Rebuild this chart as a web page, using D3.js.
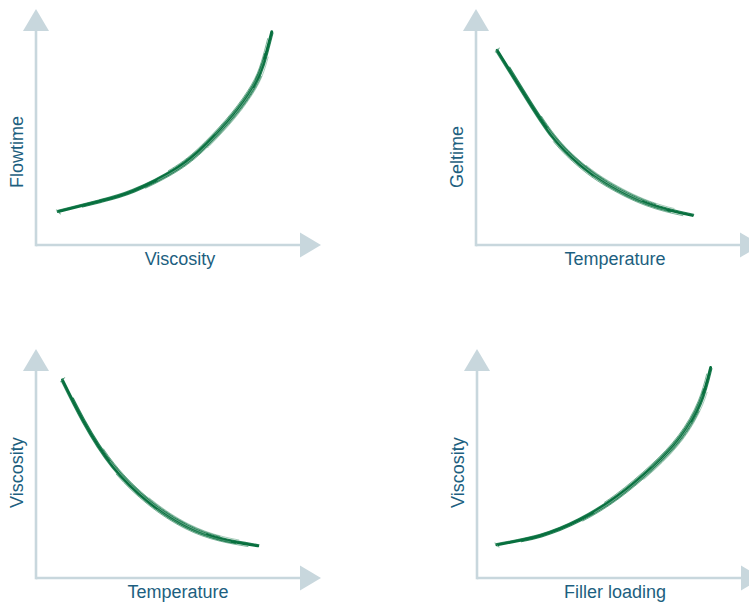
<!DOCTYPE html>
<html>
<head>
<meta charset="utf-8">
<script src="https://cdn.jsdelivr.net/npm/d3@7"></script>
<style>
  body { margin: 0; background: #fff; }
  text { font-family: "Liberation Sans", Arial, sans-serif; font-size: 18px; fill: #1d5f80; }
</style>
</head>
<body>
<svg></svg>
<script>
// 畫布尺寸
const svgSize = { width: 749, height: 602 };

// 各小圖的標籤
const xLabels = ["Viscosity", "Temperature", "Temperature", "Filler loading"];
const yLabels = ["Flowtime", "Geltime", "Viscosity", "Viscosity"];

// 曲線資料 (0-10 的相對刻度)
const flowX = [0.84, 2.42, 3.69, 5.33, 6.47, 7.47, 8.23, 8.61, 8.93];
const flowY = [1.41, 1.86, 2.30, 3.24, 4.29, 5.51, 6.71, 7.70, 9.04];
const gelX = [0.8, 1.8, 2.9, 3.95, 4.95, 6.5, 8.2];
const gelY = [8.25, 6.45, 4.6, 3.4, 2.6, 1.75, 1.25];
const visTX = [1.0, 1.8, 2.9, 4.3, 5.7, 7.0, 8.4];
const visTY = [8.65, 6.85, 4.9, 3.3, 2.25, 1.7, 1.4];
const fillX = [0.75, 2.4, 3.9, 5.3, 6.65, 7.7, 8.45, 8.85];
const fillY = [1.45, 1.85, 2.55, 3.55, 4.85, 6.15, 7.65, 9.2];

const curvesX = [flowX, gelX, visTX, fillX];
const curvesY = [flowY, gelY, visTY, fillY];

// 小圖位置
const panels = [
  { ox: 36, axisY: 245, tipY: 9, labelY: 188, labelDx: 12 },
  { ox: 476, axisY: 245, tipY: 9, labelY: 188, labelDx: 7 },
  { ox: 36, axisY: 578, tipY: 349, labelY: 508, labelDx: 10 },
  { ox: 477, axisY: 578, tipY: 349, labelY: 508, labelDx: 6 }
];

const svg = d3.select("svg")
  .attr("width", svgSize.width)
  .attr("height", svgSize.height);

const axisColor = "#c8d7dd";
const green = "#08703f";

// 手繪感的筆觸 (法線位移, 粗細, 顏色, 透明度, 顯示的長度比例)
const strokes = [
  { n: 0, w: 2.8, c: green, o: 1, from: 0, to: 1 },
  { n: 1.7, w: 1.2, c: green, o: 0.85, from: 0.08, to: 1 },
  { n: -1.5, w: 1.2, c: green, o: 0.8, from: 0, to: 0.92 },
  { n: 2.7, w: 0.9, c: green, o: 0.65, from: 0.3, to: 0.85 },
  { n: -2.6, w: 0.9, c: green, o: 0.6, from: 0.4, to: 0.97 },
  { n: 3.4, w: 0.7, c: green, o: 0.5, from: 0.55, to: 0.92 },
  { n: 0.9, w: 0.5, c: "#fff", o: 0.7, from: 0.35, to: 0.8 },
  { n: -0.8, w: 0.4, c: "#fff", o: 0.6, from: 0.6, to: 0.9 }
];

panels.forEach((p, i) => {
  const g = svg.append("g");
  const x = d3.scaleLinear().domain([0, 10]).range([p.ox, p.ox + 264]);
  const y = d3.scaleLinear().domain([0, 10]).range([p.axisY, p.tipY]);

  // 座標軸
  g.append("line")
    .attr("x1", x(0)).attr("x2", x.range()[1] + 2)
    .attr("y1", y(0)).attr("y2", y(0))
    .attr("stroke", axisColor).attr("stroke-width", 2.6);
  g.append("line")
    .attr("x1", x(0)).attr("x2", x(0))
    .attr("y1", y(0) + 1.3).attr("y2", p.tipY + 20)
    .attr("stroke", axisColor).attr("stroke-width", 2.6);
  // 箭頭
  const xe = x.range()[1], ya = y(0);
  g.append("path")
    .attr("d", `M${xe},${ya - 12.5}L${xe + 21},${ya}L${xe},${ya + 12.5}Z`)
    .attr("fill", axisColor);
  const xa = x(0), yt = p.tipY;
  g.append("path")
    .attr("d", `M${xa - 13},${yt + 22}L${xa},${yt}L${xa + 13},${yt + 22}Z`)
    .attr("fill", axisColor);

  // 標籤
  g.append("text")
    .attr("x", (x(0) + xe) / 2 + p.labelDx)
    .attr("y", ya + 20)
    .attr("text-anchor", "middle")
    .text(xLabels[i]);
  g.append("text")
    .attr("transform", `translate(${x(0) - 13},${p.labelY}) rotate(-90)`)
    .attr("text-anchor", "start")
    .text(yLabels[i]);

  // 曲線
  const pts = curvesX[i].map((v, k) => [v, curvesY[i][k]]);
  const s = curvesY[i][curvesY[i].length - 1] > curvesY[i][0] ? 1 : -1;
  strokes.forEach(st => {
    const off = st.n / Math.SQRT2;
    const line = d3.line()
      .x(d => x(d[0]) + off)
      .y(d => y(d[1]) + off * s)
      .curve(d3.curveNatural);
    const path = g.append("path")
      .datum(pts)
      .attr("d", line)
      .attr("fill", "none")
      .attr("stroke", st.c)
      .attr("stroke-width", st.w)
      .attr("stroke-opacity", st.o)
      .attr("stroke-linecap", "round");
    // 只顯示部分長度當作短筆觸
    const len = path.node().getTotalLength();
    const a = st.from * len, b = (st.to - st.from) * len;
    path.attr("stroke-dasharray", `0,${a},${b},${len}`);
  });
});
</script>
</body>
</html>
